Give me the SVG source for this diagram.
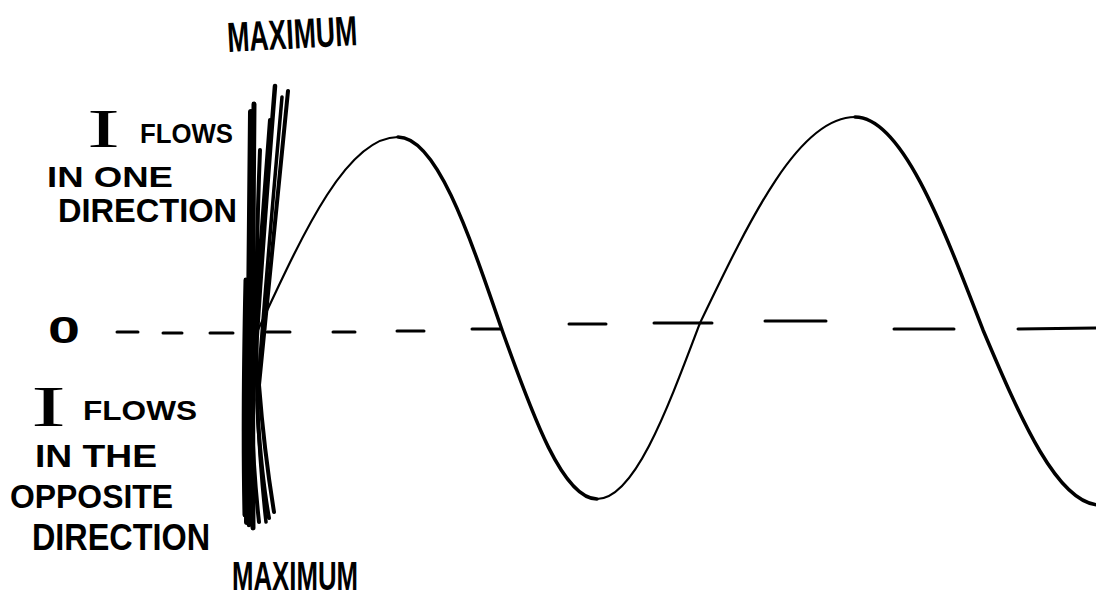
<svg xmlns="http://www.w3.org/2000/svg" width="1096" height="596" viewBox="0 0 1096 596">
<style>
.t{font-family:"Liberation Sans","DejaVu Sans",sans-serif;font-weight:bold;fill:#000}
.s{font-family:"Liberation Serif","DejaVu Serif",serif;fill:#000}
.ln{fill:none;stroke:#000;stroke-linecap:round;stroke-linejoin:round}
.dash{stroke:#000;stroke-width:3;stroke-linecap:round}
</style>
<rect width="1096" height="596" fill="#fff"/>
<g id="label-max-top"><text class="t" x="228" y="52" font-size="42" textLength="130" lengthAdjust="spacingAndGlyphs" transform="rotate(-3 228 52)">MAXIMUM</text></g>
<g id="label-positive">
<text class="s" x="87" y="147" font-size="54" textLength="33" lengthAdjust="spacingAndGlyphs">I</text>
<text class="t" x="140" y="143" font-size="28" textLength="93" lengthAdjust="spacingAndGlyphs">FLOWS</text>
<text class="t" x="47" y="187" font-size="30" textLength="126" lengthAdjust="spacingAndGlyphs">IN ONE</text>
<text class="t" x="58" y="222" font-size="33" textLength="179" lengthAdjust="spacingAndGlyphs">DIRECTION</text>
</g>
<g id="label-zero"><text class="t" x="48" y="343" font-size="36" textLength="32" lengthAdjust="spacingAndGlyphs">0</text></g>
<g id="label-negative">
<text class="s" x="31" y="426" font-size="56" textLength="35" lengthAdjust="spacingAndGlyphs">I</text>
<text class="t" x="83" y="420" font-size="27" textLength="114" lengthAdjust="spacingAndGlyphs">FLOWS</text>
<text class="t" x="35" y="467" font-size="32" textLength="122" lengthAdjust="spacingAndGlyphs">IN THE</text>
<text class="t" x="10" y="508" font-size="34" textLength="163" lengthAdjust="spacingAndGlyphs">OPPOSITE</text>
<text class="t" x="32" y="550" font-size="37" textLength="178" lengthAdjust="spacingAndGlyphs">DIRECTION</text>
</g>
<g id="label-max-bottom"><text class="t" x="232" y="590" font-size="40" textLength="126" lengthAdjust="spacingAndGlyphs">MAXIMUM</text></g>
<g id="axis">
<line class="dash" x1="117" y1="332" x2="138" y2="332"/>
<line class="dash" x1="163" y1="333" x2="182" y2="333"/>
<line class="dash" x1="210" y1="333" x2="233" y2="333"/>
<line class="dash" x1="267" y1="332" x2="290" y2="332"/>
<line class="dash" x1="333" y1="332" x2="355" y2="332"/>
<line class="dash" x1="397" y1="331" x2="424" y2="331"/>
<line class="dash" x1="472" y1="329" x2="500" y2="329"/>
<line class="dash" x1="569" y1="324" x2="606" y2="324"/>
<line class="dash" x1="654" y1="323" x2="712" y2="323" stroke-width="2"/>
<line class="dash" x1="765" y1="321" x2="826" y2="321"/>
<line class="dash" x1="894" y1="329" x2="954" y2="329"/>
<line class="dash" x1="1018" y1="329" x2="1096" y2="328"/>
</g>
<g id="bundle">
<path class="ln" stroke-width="6" d="M251,112 Q248,330 247,522"/>
<path class="ln" stroke-width="5" d="M254,104 Q252,330 253,528"/>
<path class="ln" stroke-width="4.5" d="M275,86 Q262,250 254,380 Q249,460 249,525"/>
<path class="ln" stroke-width="4" d="M288,91 Q270,280 259,385 Q264,450 274,512"/>
<path class="ln" stroke-width="3.5" d="M282,97 Q264,300 257,400 Q260,470 266,522"/>
<path class="ln" stroke-width="5" d="M246,280 Q243,420 245,515"/>
<path class="ln" stroke-width="4" d="M260,150 Q254,300 258,420 Q262,480 269,518"/>
<path class="ln" stroke-width="4" d="M270,120 Q258,280 252,360 Q250,440 259,522"/>
</g>
<g id="wave">
<path class="ln" stroke-width="2.2" d="M258,330 C 304,231 347,137 398,137"/>
<path class="ln" stroke-width="3.5" d="M398,137 C 436,137 468,231 502,330 C 533,417 563,499 597,499"/>
<path class="ln" stroke-width="2.2" d="M597,499 C 634,499 666,413 700,323 C 751,217 799,117 855,117"/>
<path class="ln" stroke-width="3.5" d="M855,117 C 901,117 941,221 983,330 C 1021,420 1058,505 1100,505"/>
</g>
</svg>
